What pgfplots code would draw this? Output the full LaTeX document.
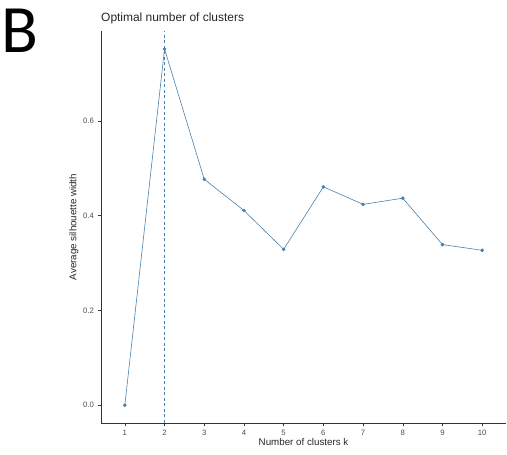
\documentclass[border=0pt]{standalone}
\usepackage{pgfplots}
\pgfplotsset{compat=1.18}
\usepackage{fontspec}
\setmainfont{Liberation Sans}
\newfontfamily\panelfont{Carlito}
\definecolor{steel}{HTML}{4A80AC}
\definecolor{ticktxt}{HTML}{4D4D4D}

\begin{document}
\begin{tikzpicture}[x=1bp,y=1bp]
\useasboundingbox (0,0) rectangle (507,455);
\node[anchor=base west,inner sep=0pt,font=\panelfont\fontsize{68}{68}\selectfont] at (1,402) {B};
\node[anchor=base west,inner sep=0pt,font=\fontsize{12}{14}\selectfont,text=black!85] at (101,433) {Optimal number of clusters};
\begin{axis}[
  at={(101bp,32bp)}, anchor=south west,
  scale only axis, width=405bp, height=392bp,
  xmin=0.4, xmax=10.6, ymin=-0.0376, ymax=0.79,
  axis x line*=bottom, axis y line*=left,
  axis line style={black!80, line width=0.6pt, -},
  xtick={1,...,10}, ytick={0,0.2,0.4,0.6},
  yticklabel style={/pgf/number format/.cd, fixed, fixed zerofill, precision=1},
  /pgf/number format/assume math mode=true,
  tick align=outside, major tick length=3.5bp,
  tick style={black!80, line width=0.5pt},
  ticklabel style={font=\fontsize{7.8}{9}\selectfont, text=ticktxt},
  xlabel={Number of clusters k}, ylabel={Average silhouette width},
  label style={font=\fontsize{9.8}{11}\selectfont, text=black!85},
  xlabel style={yshift=4bp}, ylabel style={yshift=-2bp},
  clip=false,
]
\addplot[steel, dash pattern=on 3bp off 2.5bp, line width=0.6pt, forget plot] coordinates {(2,-0.0376) (2,0.79)};
\addplot[steel, line width=0.6pt, mark=*, mark size=1.5pt, mark options={fill=steel, draw=steel}]
  coordinates {
    (1,0.000) (2,0.752) (3,0.477) (4,0.411) (5,0.329)
    (6,0.461) (7,0.424) (8,0.437) (9,0.339) (10,0.327)
  };
\end{axis}
\end{tikzpicture}
\end{document}
